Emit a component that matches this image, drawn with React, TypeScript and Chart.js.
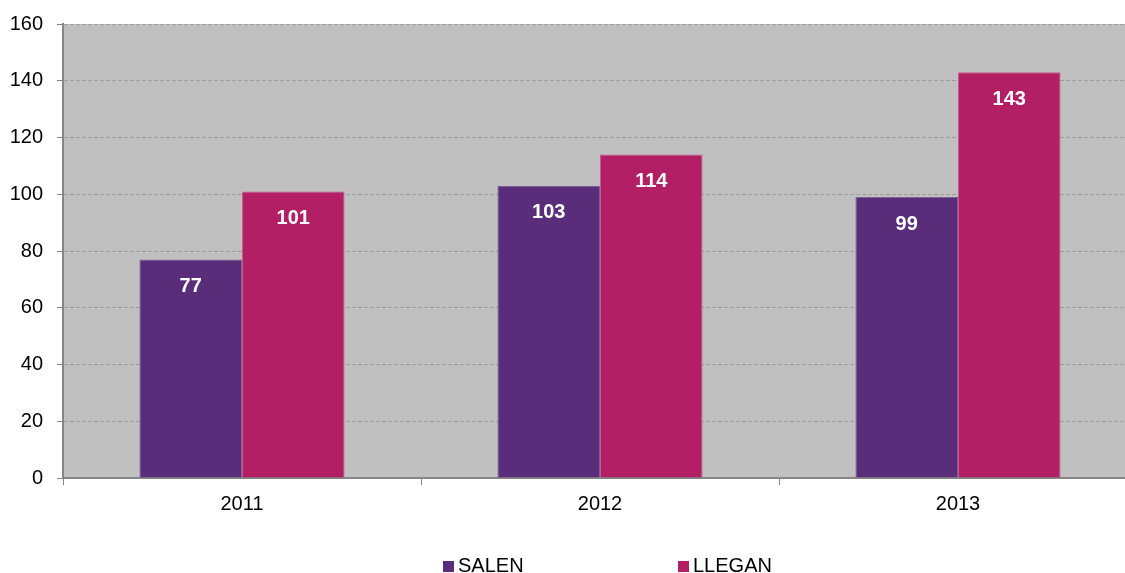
import React, { useEffect, useRef } from "react";
import { Chart, registerables } from "chart.js";

Chart.register(...registerables);

const categories = ["2011", "2012", "2013"];
const salen = [77, 103, 99];
const llegan = [101, 114, 143];
const seriesNames = ["SALEN", "LLEGAN"];
const yTicks = [0, 20, 40, 60, 80, 100, 120, 140, 160];

const FONT = "'Liberation Sans', Arial, sans-serif";
const PURPLE = "#5A2D7B";
const MAGENTA = "#B31F65";

const labelPlugin = {
  id: "barLabels",
  afterDatasetsDraw(chart: any) {
    const ctx = chart.ctx;
    ctx.save();
    ctx.fillStyle = "#FFFFFF";
    ctx.font = `bold 20px ${FONT}`;
    ctx.textAlign = "center";
    ctx.textBaseline = "middle";
    chart.data.datasets.forEach((ds: any, di: number) => {
      const meta = chart.getDatasetMeta(di);
      meta.data.forEach((bar: any, i: number) => {
        ctx.fillText(String(ds.data[i]), bar.x, bar.y + 27);
      });
    });
    ctx.restore();
  },
};

const legendPlugin = {
  id: "customLegend",
  afterDraw(chart: any) {
    const ctx = chart.ctx;
    ctx.save();
    ctx.font = `20px ${FONT}`;
    ctx.textBaseline = "middle";
    ctx.textAlign = "left";
    const xs = [443, 678];
    const y = 566;
    chart.data.datasets.forEach((ds: any, i: number) => {
      ctx.fillStyle = ds.backgroundColor;
      ctx.fillRect(xs[i], y - 5, 11, 11);
      ctx.fillStyle = "#000000";
      ctx.fillText(ds.label, xs[i] + 15, y);
    });
    ctx.restore();
  },
};

const bgPlugin = {
  id: "plotBg",
  beforeDraw(chart: any) {
    const { ctx, chartArea } = chart;
    ctx.save();
    ctx.fillStyle = "#C0C0C0";
    ctx.fillRect(chartArea.left, chartArea.top, chartArea.right - chartArea.left, chartArea.bottom - chartArea.top);
    ctx.restore();
  },
};

export default function App() {
  const ref = useRef<HTMLCanvasElement>(null);
  useEffect(() => {
    if (!ref.current) return;
    const chart = new Chart(ref.current, {
      type: "bar",
      data: {
        labels: categories,
        datasets: [
          {
            label: seriesNames[0],
            data: salen,
            backgroundColor: PURPLE,
            borderColor: "#7A5C98",
            borderWidth: 1,
          },
          {
            label: seriesNames[1],
            data: llegan,
            backgroundColor: MAGENTA,
            borderColor: "#C65A8C",
            borderWidth: 1,
          },
        ],
      },
      options: {
        responsive: false,
        animation: false,
        layout: { padding: { top: 24, right: 3, bottom: 55, left: 0 } },
        plugins: {
          legend: { display: false },
          tooltip: { enabled: false },
        },
        datasets: {
          bar: { categoryPercentage: 0.573, barPercentage: 1 },
        },
        scales: {
          x: {
            grid: {
              offset: true,
              drawOnChartArea: false,
              drawTicks: true,
              tickLength: 7,
              tickColor: "#868686",
              tickWidth: 1,
            },
            border: { color: "#868686", width: 2 },
            ticks: {
              color: "#000000",
              font: { family: FONT, size: 20 },
              padding: 7,
            },
            afterFit(scale: any) {
              scale.height = 40;
              scale.paddingLeft = 0;
              scale.paddingRight = 0;
            },
          },
          y: {
            min: 0,
            max: 160,
            afterBuildTicks(scale: any) {
              scale.ticks = yTicks.map((v) => ({ value: v }));
            },
            grid: {
              color: "#9E9E9E",
              lineWidth: 1,
              drawTicks: true,
              tickLength: 6,
              tickColor: "#868686",
              tickWidth: 1,
              tickBorderDash: [],
            },
            border: { color: "#868686", width: 2, dash: [4, 2] },
            ticks: {
              color: "#000000",
              font: { family: FONT, size: 20 },
              padding: 14,
            },
            afterFit(scale: any) {
              scale.width = 63;
              scale.paddingTop = 0;
              scale.paddingBottom = 0;
            },
          },
        },
      } as any,
      plugins: [bgPlugin, labelPlugin, legendPlugin],
    });
    return () => chart.destroy();
  }, []);

  return (
    <div
      style={{
        position: "fixed",
        left: 0,
        top: 0,
        width: 1125,
        height: 573,
        overflow: "hidden",
        background: "#FFFFFF",
      }}
    >
      <canvas ref={ref} width={1140} height={573} style={{ display: "block", width: 1140, height: 573 }} />
    </div>
  );
}
